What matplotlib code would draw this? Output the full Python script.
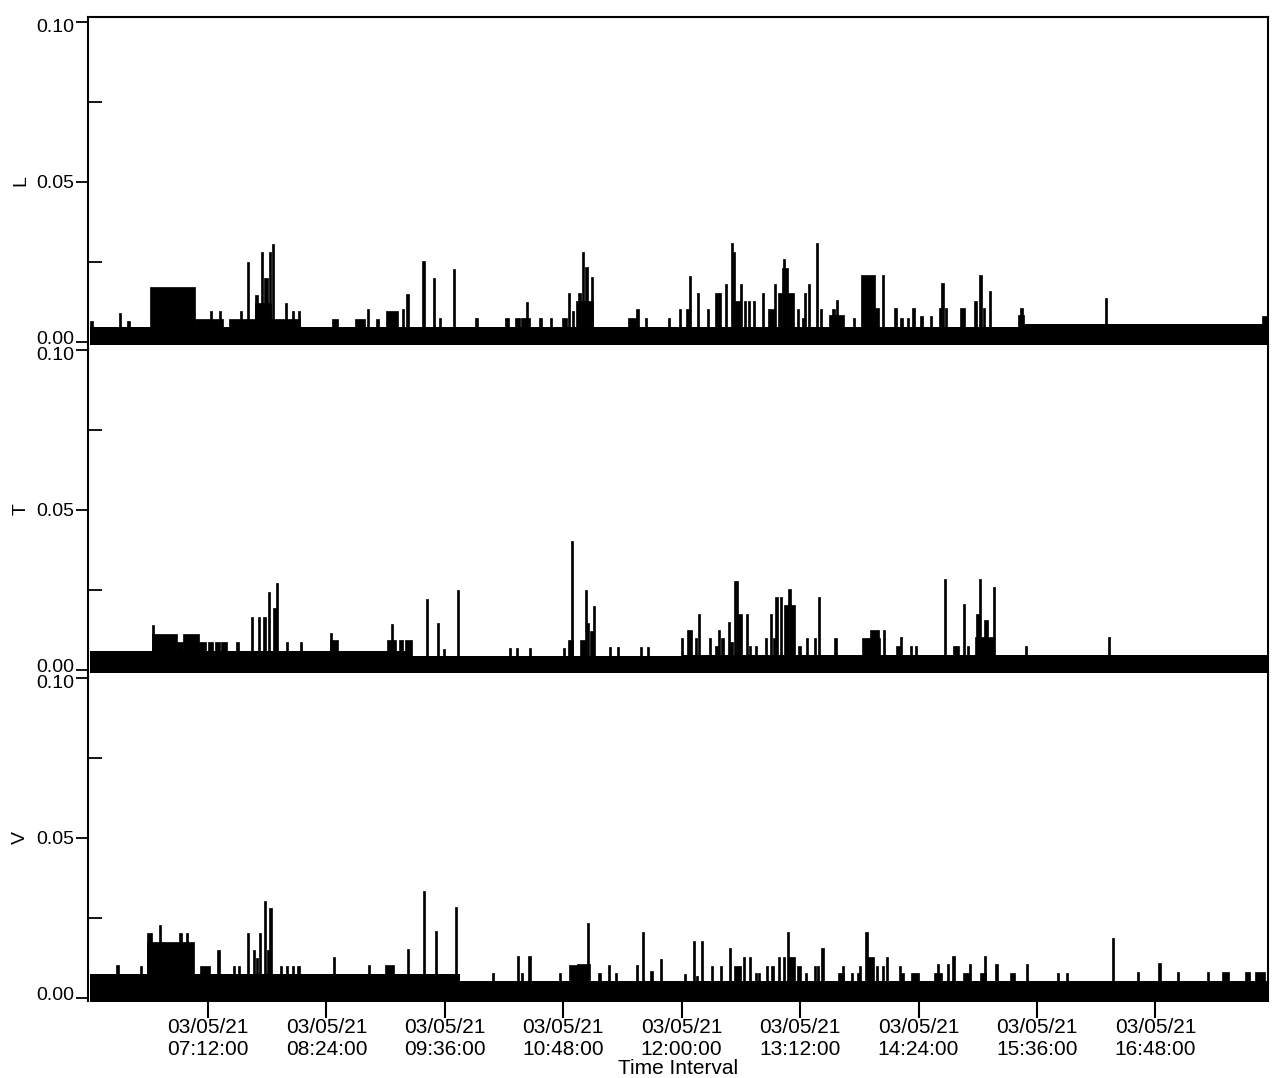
import numpy as np
import pandas as pd
import matplotlib
matplotlib.use('Agg')
import matplotlib.pyplot as plt
import matplotlib.dates as mdates
from matplotlib.ticker import FixedLocator, FormatStrFormatter
from matplotlib.transforms import ScaledTranslation

plt.rcParams['font.family'] = ['Liberation Sans', 'DejaVu Sans']

# time axis: start of the record and its length (minutes)
t_start = pd.Timestamp('2021-03-05 06:00:00')
t_span = 716.5
tick_times = ['07:12', '08:24', '09:36', '10:48', '12:00', '13:12', '14:24', '15:36', '16:48']

panel_names = ['L', 'T', 'V']

# each panel: a baseline level (step) plus events
# event start = minutes after 06:00, width in minutes, level
L_base_start = [0, 565]
L_base_value = [0.0045, 0.0056]
L_start = [0, 17.6, 23.0, 37.0, 64.3, 84.7, 73.0, 78.8, 91.6, 95.6, 100.5, 100.5, 104.0, 105.9, 109.1,
           110.8, 118.9, 123.1, 126.6, 147.6, 161.6, 168.6, 174.4, 180.3, 189.8, 192.6, 202.4, 209.0,
           212.2, 221.1, 234.6, 252.6, 258.4, 262.0, 265.4, 273.5, 279.8, 287.5, 290.6, 293.4, 295.5,
           297.0, 299.2, 301.5, 304.6, 327.2, 332.5, 337.5, 351.7, 358.4, 362.6, 364.5, 369.3, 375.4,
           380.2, 386.3, 389.9, 391.1, 392.4, 395.4, 397.8, 400.2, 403.3, 408.7, 412.4, 416.0, 418.4,
           420.9, 421.5, 424.5, 430.0, 433.0, 434.2, 436.6, 441.5, 443.9, 449.5, 451.2, 453.6, 463.9,
           468.8, 477.3, 481.5, 489.4, 493.0, 496.7, 500.3, 505.2, 511.2, 516.7, 517.9, 520.3, 529.4,
           537.9, 540.9, 543.4, 547.0, 564.6, 566.0, 617.3, 712.6]
L_width = [2, 1.3, 1.3, 27.3, 17.0, 43.3, 1.3, 1.3, 1.3, 1.3, 9.5, 2.0, 1.3, 2.5, 1.3,
           1.5, 1.3, 1.3, 1.3, 3.5, 6.0, 1.3, 1.5, 7.0, 1.3, 1.3, 1.3, 1.3,
           1.3, 1.3, 1.3, 2.5, 3.0, 6.0, 1.3, 1.5, 1.3, 3.0, 1.3, 1.3, 10.5,
           2.0, 1.5, 1.5, 1.5, 5.0, 1.3, 1.3, 1.3, 1.3, 2.0, 1.3, 1.3, 1.3,
           3.7, 1.3, 1.3, 1.3, 3.0, 1.3, 1.3, 1.3, 1.3, 1.3, 3.6, 1.3, 2.5,
           3.6, 1.3, 3.6, 1.3, 1.3, 1.3, 1.3, 1.3, 1.3, 9.0, 2.0, 1.5, 1.3,
           8.5, 2.5, 1.5, 1.3, 1.3, 1.3, 1.3, 1.3, 1.3, 1.3, 1.3, 1.3, 3.0,
           1.5, 1.5, 1.3, 1.3, 3.5, 1.3, 1.3, 4.0]
L_value = [0.0066, 0.009, 0.0066, 0.017, 0.007, 0.007, 0.0095, 0.0095, 0.0097, 0.025, 0.012, 0.0147, 0.028, 0.020, 0.028,
           0.0305, 0.012, 0.0097, 0.0097, 0.007, 0.007, 0.0102, 0.007, 0.0097, 0.0102, 0.0149, 0.0253, 0.0201,
           0.0074, 0.0227, 0.0074, 0.0074, 0.0074, 0.0074, 0.0126, 0.0074, 0.0074, 0.0074, 0.0154, 0.0097, 0.0128,
           0.0154, 0.0282, 0.0233, 0.0203, 0.0074, 0.0102, 0.0075, 0.0075, 0.0103, 0.0103, 0.0206, 0.0153, 0.0103,
           0.0153, 0.018, 0.031, 0.028, 0.0128, 0.018, 0.0128, 0.0128, 0.0128, 0.0153, 0.0103, 0.018, 0.0153,
           0.023, 0.026, 0.0153, 0.0103, 0.0075, 0.0153, 0.018, 0.031, 0.0103, 0.0085, 0.0103, 0.013, 0.0075,
           0.021, 0.0106, 0.021, 0.0106, 0.0075, 0.0075, 0.0106, 0.008, 0.008, 0.0106, 0.0184, 0.0106, 0.0106,
           0.0128, 0.021, 0.0106, 0.016, 0.0085, 0.0106, 0.0137, 0.008]

T_base_start = [0, 196, 360]
T_base_value = [0.006, 0.0042, 0.0047]
T_start = [37.7, 37.7, 53.3, 56.8, 66.7, 72.0, 76.5, 80.0, 89.3, 97.9, 102.1, 105.5, 108.3, 111.3, 113.2,
           119.5, 128.1, 146.2, 146.2, 181.0, 188.0, 192.0, 183.4, 204.3, 211.2, 214.7, 223.5, 254.7,
           259.3, 267.0, 287.9, 290.9, 292.8, 298.4, 301.1, 302.5, 304.1, 305.8, 315.8, 320.4, 334.4,
           339.0, 359.6, 363.1, 367.8, 370.1, 376.4, 380.0, 382.3, 384.2, 388.1, 389.5, 391.7, 392.9,
           394.0, 399.2, 401.0, 404.5, 410.4, 413.9, 415.5, 417.0, 419.7, 422.1, 424.9, 431.0, 435.7,
           440.3, 442.7, 452.5, 469.4, 474.8, 482.5, 490.5, 492.8, 498.9, 501.7, 519.2, 525.1, 531.0,
           533.3, 538.5, 539.1, 540.8, 543.8, 549.0, 568.9, 619.4]
T_width = [15.6, 1.3, 3.5, 9.9, 4.0, 3.0, 2.5, 3.5, 1.3, 1.5, 1.3, 2.0, 1.3, 2.0, 1.3,
           1.3, 1.3, 4.6, 1.3, 5.0, 2.5, 4.0, 1.3, 1.5, 1.3, 1.3, 1.3, 1.3,
           1.3, 1.3, 1.3, 3.3, 1.3, 2.7, 1.3, 1.3, 2.8, 1.3, 1.3, 1.3, 1.3,
           1.3, 1.3, 3.3, 1.3, 1.3, 1.3, 1.8, 1.3, 1.6, 1.3, 2.0, 1.3, 1.3,
           2.8, 1.3, 1.3, 1.3, 1.3, 1.3, 1.3, 1.3, 1.3, 6.5, 1.3, 1.3, 1.3,
           1.3, 1.3, 1.9, 11.2, 5.3, 1.3, 2.0, 1.3, 1.3, 1.3, 1.3, 3.5, 1.3,
           1.3, 11.5, 2.4, 1.3, 2.4, 1.3, 1.3, 1.3]
T_value = [0.0112, 0.0139, 0.0088, 0.0112, 0.0088, 0.0088, 0.0088, 0.0088, 0.0088, 0.0166, 0.0166, 0.0166, 0.0244, 0.0192, 0.027,
           0.0088, 0.0088, 0.0092, 0.0116, 0.0092, 0.0092, 0.0092, 0.0144, 0.0222, 0.0146, 0.0064, 0.0248, 0.0068,
           0.0068, 0.0068, 0.0068, 0.0094, 0.0404, 0.0094, 0.025, 0.0146, 0.012, 0.020, 0.0071, 0.0071, 0.0071,
           0.0071, 0.0099, 0.0123, 0.0099, 0.0175, 0.0099, 0.0073, 0.0123, 0.0099, 0.0149, 0.0088, 0.0278, 0.0278,
           0.0175, 0.0175, 0.0073, 0.0073, 0.0099, 0.0175, 0.0099, 0.0227, 0.0227, 0.0203, 0.0253, 0.0073, 0.0099,
           0.0099, 0.0227, 0.0099, 0.0099, 0.0125, 0.0125, 0.0073, 0.0102, 0.0073, 0.0073, 0.0283, 0.0073, 0.0206,
           0.0073, 0.0104, 0.0175, 0.0283, 0.0156, 0.0258, 0.0075, 0.0104]

V_base_start = [0, 225]
V_base_value = [0.0073, 0.0052]
V_start = [16.0, 30.4, 34.6, 34.6, 42.1, 54.6, 58.8, 67.0, 77.7, 86.9, 90.2, 95.6, 99.4, 101.1, 103.1,
           106.1, 107.6, 109.3, 115.6, 119.4, 123.1, 126.4, 148.0, 169.1, 179.8, 192.8, 202.8, 210.2,
           222.2, 244.6, 259.6, 262.0, 266.8, 285.5, 291.2, 296.2, 302.4, 309.4, 315.3, 319.5, 332.3,
           336.0, 341.0, 347.0, 361.2, 367.1, 368.7, 371.8, 377.6, 383.5, 388.8, 391.7, 397.5, 401.0,
           404.5, 406.2, 411.1, 414.6, 418.6, 421.6, 424.0, 424.4, 430.3, 435.0, 440.3, 442.0, 445.0,
           454.9, 457.2, 463.0, 466.5, 467.7, 471.7, 472.4, 478.0, 481.5, 484.1, 491.9, 492.5, 499.3,
           513.4, 515.3, 521.1, 524.6, 530.9, 534.9, 541.5, 543.8, 550.8, 559.7, 569.1, 588.3, 593.5,
           621.8, 637.0, 649.9, 660.9, 679.6, 688.5, 702.5, 708.9]
V_width = [2.0, 1.3, 28.7, 3.5, 1.3, 1.3, 1.3, 6.2, 1.3, 1.3, 1.3, 1.3, 1.3, 1.3, 1.3,
           1.3, 1.3, 1.8, 1.3, 1.3, 1.3, 1.3, 1.3, 1.3, 5.0, 1.3, 1.3, 1.3,
           1.3, 1.3, 1.3, 1.3, 1.3, 1.3, 5.0, 8.0, 1.3, 1.3, 1.3, 1.3, 1.3,
           1.3, 1.3, 1.3, 1.3, 1.3, 1.3, 1.3, 1.3, 1.3, 1.3, 4.2, 1.3, 1.3,
           1.3, 1.3, 1.3, 1.3, 1.3, 1.3, 1.3, 4.7, 2.3, 1.3, 1.3, 1.3, 1.3,
           3.5, 1.3, 1.3, 1.3, 1.3, 1.3, 4.7, 1.3, 1.3, 1.3, 1.3, 2.5, 4.7,
           4.7, 1.3, 1.3, 1.3, 4.7, 1.3, 3.5, 1.3, 1.3, 2.8, 1.3, 1.3, 1.3,
           1.3, 1.3, 1.3, 1.3, 1.3, 4.0, 2.9, 5.8]
V_value = [0.0102, 0.0099, 0.0175, 0.0203, 0.0229, 0.0203, 0.0203, 0.0099, 0.0151, 0.0099, 0.0099, 0.0203, 0.0151, 0.0125, 0.0203,
           0.0304, 0.0151, 0.0281, 0.0099, 0.0099, 0.0099, 0.0099, 0.0127, 0.0102, 0.0102, 0.0154, 0.0333, 0.021,
           0.0283, 0.0078, 0.013, 0.0078, 0.013, 0.0078, 0.0104, 0.0106, 0.0234, 0.0078, 0.0104, 0.0078, 0.0104,
           0.0206, 0.0085, 0.012, 0.0075, 0.0179, 0.0067, 0.0179, 0.01, 0.01, 0.0155, 0.01, 0.0127, 0.0127,
           0.0077, 0.0077, 0.01, 0.01, 0.0127, 0.0127, 0.0207, 0.0127, 0.01, 0.0077, 0.01, 0.01, 0.0155,
           0.0077, 0.01, 0.0077, 0.0077, 0.01, 0.0207, 0.0129, 0.01, 0.01, 0.0129, 0.01, 0.0077, 0.0077,
           0.0077, 0.0106, 0.0106, 0.0131, 0.0077, 0.0106, 0.0077, 0.0131, 0.0106, 0.0079, 0.0106, 0.0079, 0.0079,
           0.0186, 0.0082, 0.0108, 0.0082, 0.0082, 0.0082, 0.0082, 0.0082]

panels = [
    (L_base_start, L_base_value, L_start, L_width, L_value),
    (T_base_start, T_base_value, T_start, T_width, T_value),
    (V_base_start, V_base_value, V_start, V_width, V_value),
]

x0 = mdates.date2num(t_start)


def to_x(minutes):
    return x0 + np.asarray(minutes, dtype=float) / 1440.0


y_bot = -0.001
y_top = 0.1015

fig = plt.figure(figsize=(12.75, 10.78), dpi=100)
axes = fig.subplots(3, 1, sharex=True)
fig.subplots_adjust(left=0.069, right=0.9945, top=0.9842, bottom=0.0714, hspace=0)

for i, (ax, name, data) in enumerate(zip(axes, panel_names, panels)):
    b_t, b_v, s, w, v = data
    # baseline band
    bt = list(b_t) + [t_span + 5]
    bv = list(b_v) + [b_v[-1]]
    ax.fill_between(to_x(bt), y_bot - 0.01, bv, step='post', color='black', lw=0)
    # events
    ax.bar(to_x(s), np.asarray(v) - y_bot, width=np.asarray(w) / 1440.0, bottom=y_bot,
           align='edge', color='black', edgecolor='black', linewidth=0.5)

    ax.set_ylim(y_bot, y_top)
    ax.set_xlim(to_x(-1), to_x(t_span))
    ax.yaxis.set_major_locator(FixedLocator([0.0, 0.05, 0.10]))
    ax.yaxis.set_major_formatter(FormatStrFormatter('%.2f'))
    ax.yaxis.set_minor_locator(FixedLocator([0.025, 0.075]))
    ax.tick_params(axis='y', which='major', direction='out', length=9, width=1.3,
                   labelsize=14, pad=1)
    ax.tick_params(axis='y', which='minor', direction='in', length=10, width=1.3)
    ax.set_ylabel(name, fontsize=14, labelpad=5)

    ax.spines['bottom'].set_visible(False)
    if i > 0:
        ax.spines['top'].set_visible(False)
    for sp in ax.spines.values():
        sp.set_linewidth(1.5)

    if i < 2:
        ax.tick_params(axis='x', which='both', bottom=False, labelbottom=False)

tick_min = [(pd.Timestamp('2021-03-05 ' + t) - t_start).total_seconds() / 60 for t in tick_times]
ax = axes[-1]
ax.xaxis.set_major_locator(FixedLocator(to_x(tick_min)))
ax.xaxis.set_major_formatter(mdates.DateFormatter('%m/%d/%y\n%H:%M:%S'))
ax.xaxis.set_minor_locator(FixedLocator([]))
ax.tick_params(axis='x', which='major', direction='out', length=12, width=1.5,
               labelsize=15, pad=0)
ax.set_xlabel('Time Interval', fontsize=15, labelpad=0)

# nudge the stacked 0.00 / 0.10 labels apart, as in the scanned figure
fig.canvas.draw()
for ax in axes:
    ticks = ax.yaxis.get_major_ticks()
    ticks[0].label1.set_transform(ticks[0].label1.get_transform() +
                                  ScaledTranslation(0, 0.045, fig.dpi_scale_trans))
    ticks[-1].label1.set_transform(ticks[-1].label1.get_transform() +
                                   ScaledTranslation(0, -0.035, fig.dpi_scale_trans))

fig.savefig('out.png', dpi=100)
